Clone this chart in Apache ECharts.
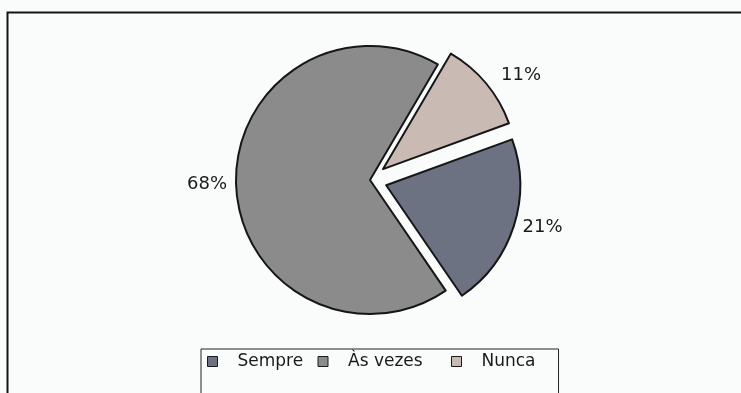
<!DOCTYPE html>
<html>
<head>
<meta charset="utf-8">
<script src="https://cdn.jsdelivr.net/npm/echarts@6/dist/echarts.min.js"></script>
<style>
  html, body { margin: 0; padding: 0; background: #f9fcfb; }
  #chart { width: 741px; height: 393px; }
</style>
</head>
<body>
<div id="chart"></div>
<script>
// Answer categories and their shares (%)
const categories = ['Sempre', 'Às vezes', 'Nunca'];
const shares = [21, 68, 11];
const exploded = [true, false, true];
const sliceColors = ['#6c7282', '#8b8b8b', '#c9bab3'];

// outside label offsets per slice: [length, length2]
const labelLines = [[4, 0], [4, 0], [13, 0]];

// legend text slots keep the items spaced as in the printed legend
const legendWidths = { 'Sempre': 70, 'Às vezes': 93, 'Nunca': 53 };
const legendKeys = { 'Sempre': 's', 'Às vezes': 'v', 'Nunca': 'n' };

const chart = echarts.init(document.getElementById('chart'), null, { renderer: 'canvas' });

const data = categories.map((name, i) => ({
  name: name,
  value: shares[i],
  selected: exploded[i],
  itemStyle: { color: sliceColors[i] },
  labelLine: { show: false, length: labelLines[i][0], length2: labelLines[i][1] }
}));

const rich = {};
categories.forEach(name => {
  rich[legendKeys[name]] = {
    width: legendWidths[name],
    padding: [0, 0, 0, 15],
    fontFamily: 'DejaVu Sans',
    fontSize: 17,
    color: '#1a1a1a',
    lineHeight: 18
  };
});

const option = {
  backgroundColor: '#f9fcfb',
  animation: false,
  graphic: [{
    type: 'rect',
    shape: { x: 7.5, y: 12.5, width: 800, height: 500 },
    style: { fill: 'none', stroke: '#151515', lineWidth: 2 },
    silent: true,
    z: 0
  }],
  legend: {
    data: categories,
    orient: 'horizontal',
    left: 201,
    top: 349,
    padding: [4, 23, 40, 6],
    itemGap: 10,
    itemWidth: 10,
    itemHeight: 10,
    icon: 'rect',
    borderColor: '#222',
    borderWidth: 1,
    selectedMode: false,
    itemStyle: { borderColor: '#1a1a1a', borderWidth: 1 },
    formatter: name => '{' + legendKeys[name] + '|' + name + '}',
    textStyle: { rich: rich, fontFamily: 'DejaVu Sans', fontSize: 17, color: '#1a1a1a' }
  },
  series: [{
    type: 'pie',
    center: [370, 180],
    radius: 134,
    startAngle: 20,
    clockwise: true,
    selectedMode: 'multiple',
    selectedOffset: 17,
    avoidLabelOverlap: false,
    silent: true,
    emphasis: { disabled: true },
    itemStyle: { borderColor: '#161616', borderWidth: 2 },
    select: { itemStyle: { borderColor: '#161616', borderWidth: 2 } },
    label: {
      show: true,
      position: 'outside',
      formatter: '{c}%',
      fontFamily: 'DejaVu Sans',
      fontSize: 18,
      color: '#1a1a1a',
      distanceToLabelLine: 5
    },
    data: data
  }]
};

chart.setOption(option);
</script>
</body>
</html>
